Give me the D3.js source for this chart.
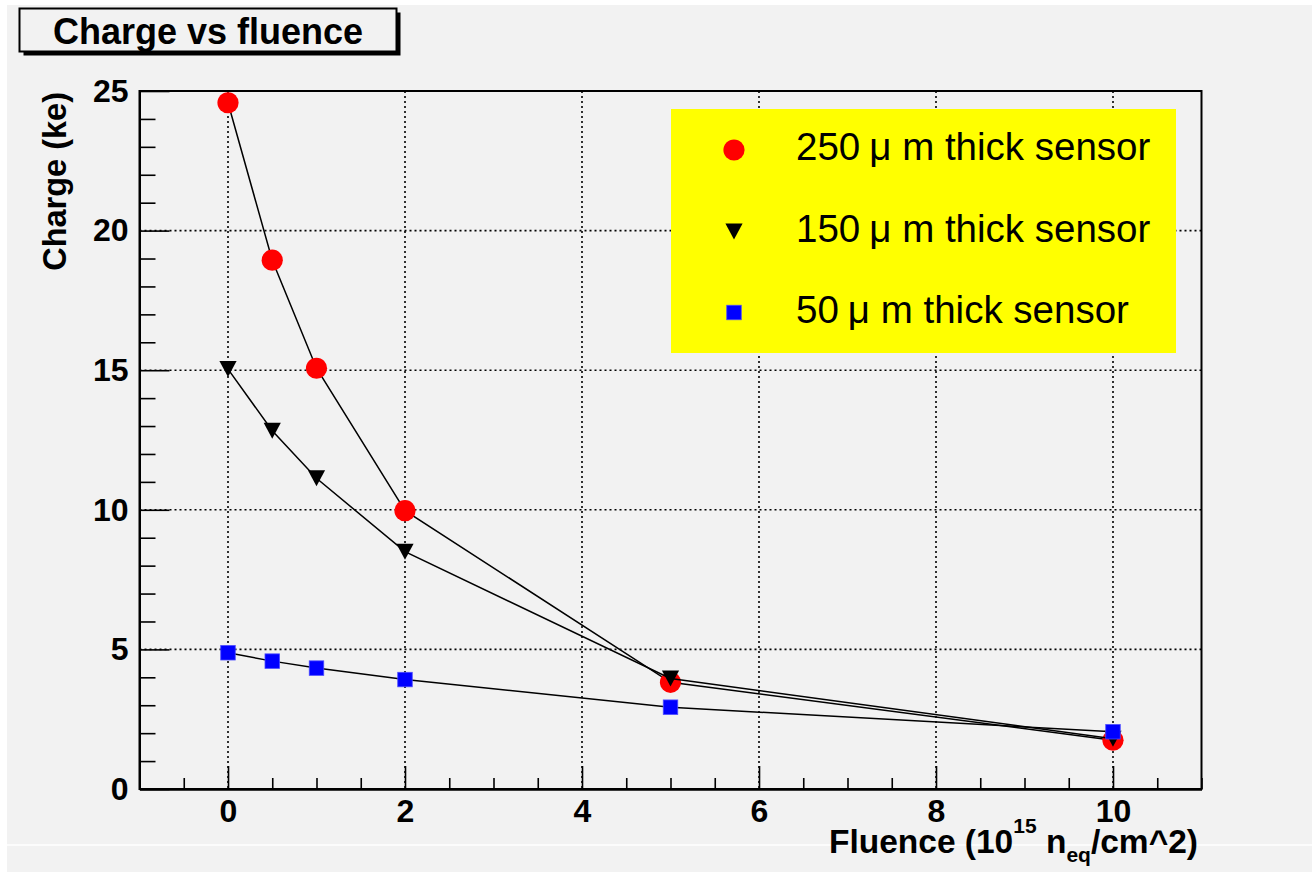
<!DOCTYPE html>
<html>
<head>
<meta charset="utf-8">
<script src="https://cdn.jsdelivr.net/npm/d3@7"></script>
<style>
  html, body { margin: 0; padding: 0; background: #ffffff; }
  svg { display: block; font-family: "Liberation Sans", Arial, Helvetica, sans-serif; }
</style>
</head>
<body>
<svg id="chart" width="1312" height="872"></svg>
<script>
// Fluence points (10^15 n_eq/cm^2)
const fluence = [0, 0.5, 1, 2, 5, 10];

// Collected charge (ke) per sensor thickness
const charge250 = [24.58, 18.94, 15.07, 9.97, 3.82, 1.75];
const charge150 = [15.04, 12.83, 11.13, 8.50, 3.96, 1.80];
const charge50  = [4.88, 4.58, 4.33, 3.92, 2.93, 2.05];

const seriesNames = ["250", "150", "50"];

const xMajorTicks = [0, 2, 4, 6, 8, 10];
const yMajorTicks = [0, 5, 10, 15, 20, 25];

const svg = d3.select("#chart");
const W = 1312, H = 872;

// Pad background
svg.append("rect").attr("x", 7).attr("y", 5).attr("width", W - 7).attr("height", H - 5).attr("fill", "#f2f2f2");
svg.append("line").attr("x1", 7).attr("x2", W).attr("y1", 845).attr("y2", 845)
  .attr("stroke", "#ffffff").attr("stroke-width", 1.5);

const frame = { left: 139.5, right: 1201.5, top: 91, bottom: 789 };
const x = d3.scaleLinear().domain([-1, 11]).range([frame.left, frame.right]);
const y = d3.scaleLinear().domain([0, 25]).range([frame.bottom, frame.top]);

// Dotted grid at major ticks
const grid = svg.append("g").attr("stroke", "#000").attr("stroke-width", 1.6).attr("stroke-dasharray", "2,3");
grid.selectAll("line.gx").data(xMajorTicks).join("line").attr("class", "gx")
  .attr("x1", d => x(d)).attr("x2", d => x(d)).attr("y1", frame.top).attr("y2", frame.bottom);
grid.selectAll("line.gy").data(yMajorTicks.filter(d => d > 0)).join("line").attr("class", "gy")
  .attr("x1", frame.left).attr("x2", frame.right).attr("y1", d => y(d)).attr("y2", d => y(d));

// Frame
svg.append("rect").attr("x", frame.left).attr("y", frame.top)
  .attr("width", frame.right - frame.left).attr("height", frame.bottom - frame.top)
  .attr("fill", "none").attr("stroke", "#000").attr("stroke-width", 2);

// Axes: minor ticks first, then major ticks with labels
const xMinor = d3.range(-1, 11.01, 0.5).filter(v => !xMajorTicks.includes(v));
const yMinor = d3.range(0, 25.01, 1).filter(v => !yMajorTicks.includes(v));

const xAxisMinor = svg.append("g").attr("transform", `translate(0,${frame.bottom})`)
  .call(d3.axisBottom(x).tickValues(xMinor).tickSizeInner(-11).tickSizeOuter(0).tickFormat(""));
const xAxis = svg.append("g").attr("transform", `translate(0,${frame.bottom})`)
  .call(d3.axisBottom(x).tickValues(xMajorTicks).tickSizeInner(-23).tickSizeOuter(0).tickPadding(10).tickFormat(d3.format("d")));
const yAxisMinor = svg.append("g").attr("transform", `translate(${frame.left},0)`)
  .call(d3.axisLeft(y).tickValues(yMinor).tickSizeInner(-16).tickSizeOuter(0).tickFormat(""));
const yAxis = svg.append("g").attr("transform", `translate(${frame.left},0)`)
  .call(d3.axisLeft(y).tickValues(yMajorTicks).tickSizeInner(-30).tickSizeOuter(0).tickPadding(11).tickFormat(d3.format("d")));

[xAxisMinor, xAxis, yAxisMinor, yAxis].forEach(g => {
  g.select(".domain").attr("stroke", "#000").attr("stroke-width", 2);
  g.selectAll(".tick line").attr("stroke", "#000").attr("stroke-width", 1.6);
  g.selectAll(".tick text").attr("fill", "#000").attr("font-size", 32).attr("font-weight", "bold")
    .attr("font-family", "Liberation Sans, Arial, sans-serif");
});

// Axis titles
svg.append("text")
  .attr("transform", `translate(66,${frame.top + 1}) rotate(-90)`)
  .attr("text-anchor", "end").attr("font-size", 32.5).attr("font-weight", "bold")
  .text("Charge (ke)");

const xt = svg.append("text").attr("x", 1198).attr("y", 853)
  .attr("text-anchor", "end").attr("font-size", 33.5).attr("font-weight", "bold");
xt.append("tspan").text("Fluence (10");
xt.append("tspan").attr("font-size", 21).attr("dy", -20).text("15");
xt.append("tspan").attr("dy", 20).text(" n");
xt.append("tspan").attr("font-size", 21).attr("dy", 9).text("eq");
xt.append("tspan").attr("dy", -9).text("/cm^2)");

// Marker shapes
const circleSym = d3.symbol().type(d3.symbolCircle).size(Math.PI * 10.6 * 10.6);
function triPath(hw, hh) { // downward-pointing triangle
  return `M${-hw},${-hh}L${hw},${-hh}L0,${hh}Z`;
}
const sqSide = 14.5;

const series = [
  { name: seriesNames[0], values: charge250, kind: "circle", color: "#ff0000" },
  { name: seriesNames[1], values: charge150, kind: "tri", color: "#000000" },
  { name: seriesNames[2], values: charge50, kind: "square", color: "#0000ff" }
];

function drawMarker(g, kind, color) {
  if (kind === "circle") g.append("path").attr("d", circleSym()).attr("fill", color);
  else if (kind === "tri") g.append("path").attr("d", triPath(8.6, 8)).attr("fill", color);
  else g.append("rect").attr("x", -sqSide / 2).attr("y", -sqSide / 2).attr("width", sqSide).attr("height", sqSide)
    .attr("fill", color).attr("stroke", "#4a4aff").attr("stroke-width", 0.8);
}

const line = d3.line().x(d => x(d[0])).y(d => y(d[1]));

series.forEach(s => {
  const pts = fluence.map((f, i) => [f, s.values[i]]);
  svg.append("path").datum(pts).attr("d", line)
    .attr("fill", "none").attr("stroke", "#000").attr("stroke-width", 1.5);
  const mg = svg.append("g");
  pts.forEach(p => {
    const g = mg.append("g").attr("transform", `translate(${x(p[0])},${y(p[1])})`);
    drawMarker(g, s.kind, s.color);
  });
});

// Legend
const legend = svg.append("g");
legend.append("rect").attr("x", 671).attr("y", 109).attr("width", 505).attr("height", 244).attr("fill", "#ffff00");
const legendY = [150, 231.5, 312.5];
series.forEach((s, i) => {
  const g = legend.append("g").attr("transform", `translate(734,${legendY[i]})`);
  drawMarker(g, s.kind, s.color);
  const t = legend.append("text").attr("x", 796).attr("y", legendY[i] + 10).attr("font-size", 38.5).attr("fill", "#000");
  t.append("tspan").text(s.name);
  t.append("tspan").attr("dx", 9).text("\u03bc");
  t.append("tspan").text(" m thick sensor");
});

// Title box with drop shadow
svg.append("rect").attr("x", 23.5).attr("y", 12.5).attr("width", 377).attr("height", 43).attr("fill", "#000");
svg.append("rect").attr("x", 19.5).attr("y", 8.5).attr("width", 377).attr("height", 43)
  .attr("fill", "#f2f2f2").attr("stroke", "#000").attr("stroke-width", 2);
svg.append("text").attr("x", 208).attr("y", 44).attr("text-anchor", "middle")
  .attr("font-size", 36).attr("font-weight", "bold").text("Charge vs fluence");
</script>
</body>
</html>
